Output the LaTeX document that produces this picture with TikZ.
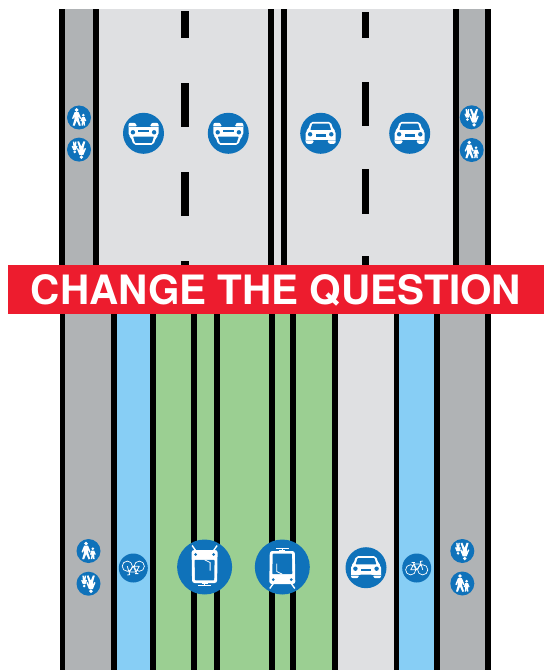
\documentclass[tikz,border=0pt]{standalone}
\usepackage{fontspec}
\setmainfont{TeX Gyre Heros}
\definecolor{walkgray}{HTML}{B0B3B5}
\definecolor{roadgray}{HTML}{DFE0E2}
\definecolor{bikeblue}{HTML}{87CEF5}
\definecolor{tramgreen}{HTML}{9BCF92}
\definecolor{signblue}{HTML}{0F72BA}
\definecolor{bannerred}{HTML}{ED1C2E}
\tikzset{
  walk/.style={fill=walkgray},
  road/.style={fill=roadgray},
  bikelane/.style={fill=bikeblue},
  tramlane/.style={fill=tramgreen},
  stripe/.style={fill=black},
  sign/.style={circle,fill=signblue,inner sep=0pt,minimum size=#1},
  banner/.style={fill=bannerred,text=white,inner sep=0pt,minimum width=536.3bp,minimum height=49.3bp,
    text height=29bp,text depth=0pt,
    font=\bfseries\fontsize{40.6}{40.6}\selectfont},
  caricon/.pic={
    \fill[white,rounded corners=2bp] (-10,-11.5) -- (10,-11.5) -- (12.6,-4) -- (15,-2) -- (15,10.5) -- (7.5,10.5) -- (7.5,7) -- (-7.5,7) -- (-7.5,10.5) -- (-15,10.5) -- (-15,-2) -- (-12.6,-4) -- cycle;
    \fill[signblue,rounded corners=0.6bp] (-8.4,-9.6) -- (8.4,-9.6) -- (10.4,-3.4) -- (-10.4,-3.4) -- cycle;
    \fill[signblue] (-10.6,1) circle (2.2) (10.6,1) circle (2.2);
    \fill[signblue] (-5.2,1) rectangle (5.2,3.4);
    \fill[signblue] (-15,7) rectangle (15,7.6);
    \fill[white] (-15,7) rectangle (-7.5,7.7) (7.5,7) rectangle (15,7.7);
  },
  walkicon/.pic={
    \fill[white] (-2.4,-7.5) circle (1.9) (4.3,-2.3) circle (1.45);
    \fill[white] (-4.4,-5.3) -- (-0.4,-5.3) -- (2.2,1) -- (1,1.6) -- (-0.4,-1.5) -- (-0.2,2) -- (1.8,8) -- (0,8.3) -- (-2.3,3) -- (-4.4,8.3) -- (-6.3,8) -- (-4.6,2) -- (-4.5,-1.5) -- (-5.8,1.6) -- (-7,1) -- cycle;
    \fill[white] (2.9,-0.4) -- (5.7,-0.4) -- (7.3,3.4) -- (6.3,3.8) -- (5.5,2) -- (6.1,8.1) -- (4.8,8.1) -- (4.3,4.8) -- (3.8,8.1) -- (2.5,8.1) -- (3.1,2) -- (2.4,3.8) -- (1.4,3.4) -- cycle;
  },
  bikeicon/.pic={
    \draw[white,line width=0.7bp] (-6,1.8) circle (5.1) (6,1.8) circle (5.1);
    \draw[white,line width=0.8bp,line join=round] (-6,1.8) -- (-2.8,-4) -- (4.2,-4) -- (0,1.8) -- cycle (-3.4,-5.6) -- (0,1.8) (3.6,-6.6) -- (6,1.8) (-5,-5.6) -- (-1.8,-5.6) (3.6,-6.6) -- (6,-7);
  },
  tramicon/.pic={
    \draw[white,line width=1.1bp] (-6.5,-18.8) -- (6.5,-18.8) (0,-18.8) -- (0,-15.5) (-3,-16.2) -- (3,-16.2);
    \fill[white,rounded corners=2.5bp] (-12.5,-16) -- (12.5,-16) -- (13,17) -- (-13,17) -- cycle;
    \fill[signblue,rounded corners=0.8bp] (-9.6,-13.4) -- (9.6,-13.4) -- (10,7.2) -- (-10,7.2) -- cycle;
    \draw[white,line width=0.8bp] (-5.5,-3.5) -- (-5.5,4.5) -- (0,7.2);
    \fill[signblue] (-9,12.6) circle (1.5) (9,12.6) circle (1.5);
    \draw[white,line width=1.4bp] (-9,16.5) -- (-12.5,21.5) (9,16.5) -- (12.5,21.5);
  }
}
\begin{document}
\begin{tikzpicture}[x=1bp,y=-1bp]
\useasboundingbox (0,0) rectangle (544,670);
\fill[white] (0,0) rectangle (544,670);
% upper street
\fill[walk] (62,9.3) rectangle (95,265);
\fill[road] (95,9.3) rectangle (455,265);
\fill[walk] (455,9.3) rectangle (488,265);
\foreach \a/\b in {59/65,92.7/98.7,268.3/274.3,280.7/286.7,453/458.5,484.9/490.7}
  \fill[stripe] (\a,9.3) rectangle (\b,265);
\foreach \a/\b in {10.7/37.7,83/126.7,171.7/216,261/265}
  \fill[stripe] (181.3,\a) rectangle (189.3,\b);
\foreach \a/\b in {12/38,82/125.7,169.3/213.5,256/265}
  \fill[stripe] (361.5,\a) rectangle (369.3,\b);
% lower street
\fill[walk] (62,314) rectangle (113,670);
\fill[bikelane] (113,314) rectangle (153,670);
\fill[tramlane] (153,314) rectangle (335,670);
\fill[road] (335,314) rectangle (397,670);
\fill[bikelane] (397,314) rectangle (437,670);
\fill[walk] (437,314) rectangle (488,670);
\foreach \a/\b in {59.5/65,110.8/116.8,150.3/156.3,191.2/197.2,214.1/220.1,269/275,289.8/295.6,331.8/337.6,393.6/399.4,434.2/440.1,484.9/490.7}
  \fill[stripe] (\a,314) rectangle (\b,670);
% banner
\node[banner] (banner) at (275.85,289.65) {CHANGE THE QUESTION};
% upper signs
\node[sign=24bp] (pa) at (79,117.5) {};
\node[sign=24bp] (pb) at (79,149.6) {};
\node[sign=41bp] (ca) at (143.5,133.3) {};
\node[sign=41bp] (cb) at (228.3,133.3) {};
\node[sign=41bp] (cc) at (320.7,133.3) {};
\node[sign=41bp] (cd) at (409.7,133.3) {};
\node[sign=24bp] (pc) at (471.7,117.3) {};
\node[sign=24bp] (pd) at (471.7,150) {};
\pic at (pa) {walkicon};
\pic[rotate=180] at (pb) {walkicon};
\pic[rotate=180] at (ca) {caricon};
\pic[rotate=180] at (cb) {caricon};
\pic at (cc) {caricon};
\pic at (cd) {caricon};
\pic[rotate=180] at (pc) {walkicon};
\pic at (pd) {walkicon};
% lower signs
\node[sign=24bp] (pe) at (88.5,551) {};
\node[sign=24bp] (pf) at (88.5,583.7) {};
\node[sign=29bp] (ba) at (133.3,568) {};
\node[sign=55bp] (ta) at (204.6,567) {};
\node[sign=55bp] (tb) at (282.3,567) {};
\node[sign=41bp] (ce) at (366,567.7) {};
\node[sign=29bp] (bb) at (416.7,568) {};
\node[sign=24bp] (pg) at (462.3,551) {};
\node[sign=24bp] (ph) at (462.3,583.5) {};
\pic at (pe) {walkicon};
\pic[rotate=180] at (pf) {walkicon};
\pic[rotate=180] at (ba) {bikeicon};
\pic[rotate=180] at (ta) {tramicon};
\pic at (tb) {tramicon};
\pic at (ce) {caricon};
\pic at (bb) {bikeicon};
\pic[rotate=180] at (pg) {walkicon};
\pic at (ph) {walkicon};
\end{tikzpicture}
\end{document}
